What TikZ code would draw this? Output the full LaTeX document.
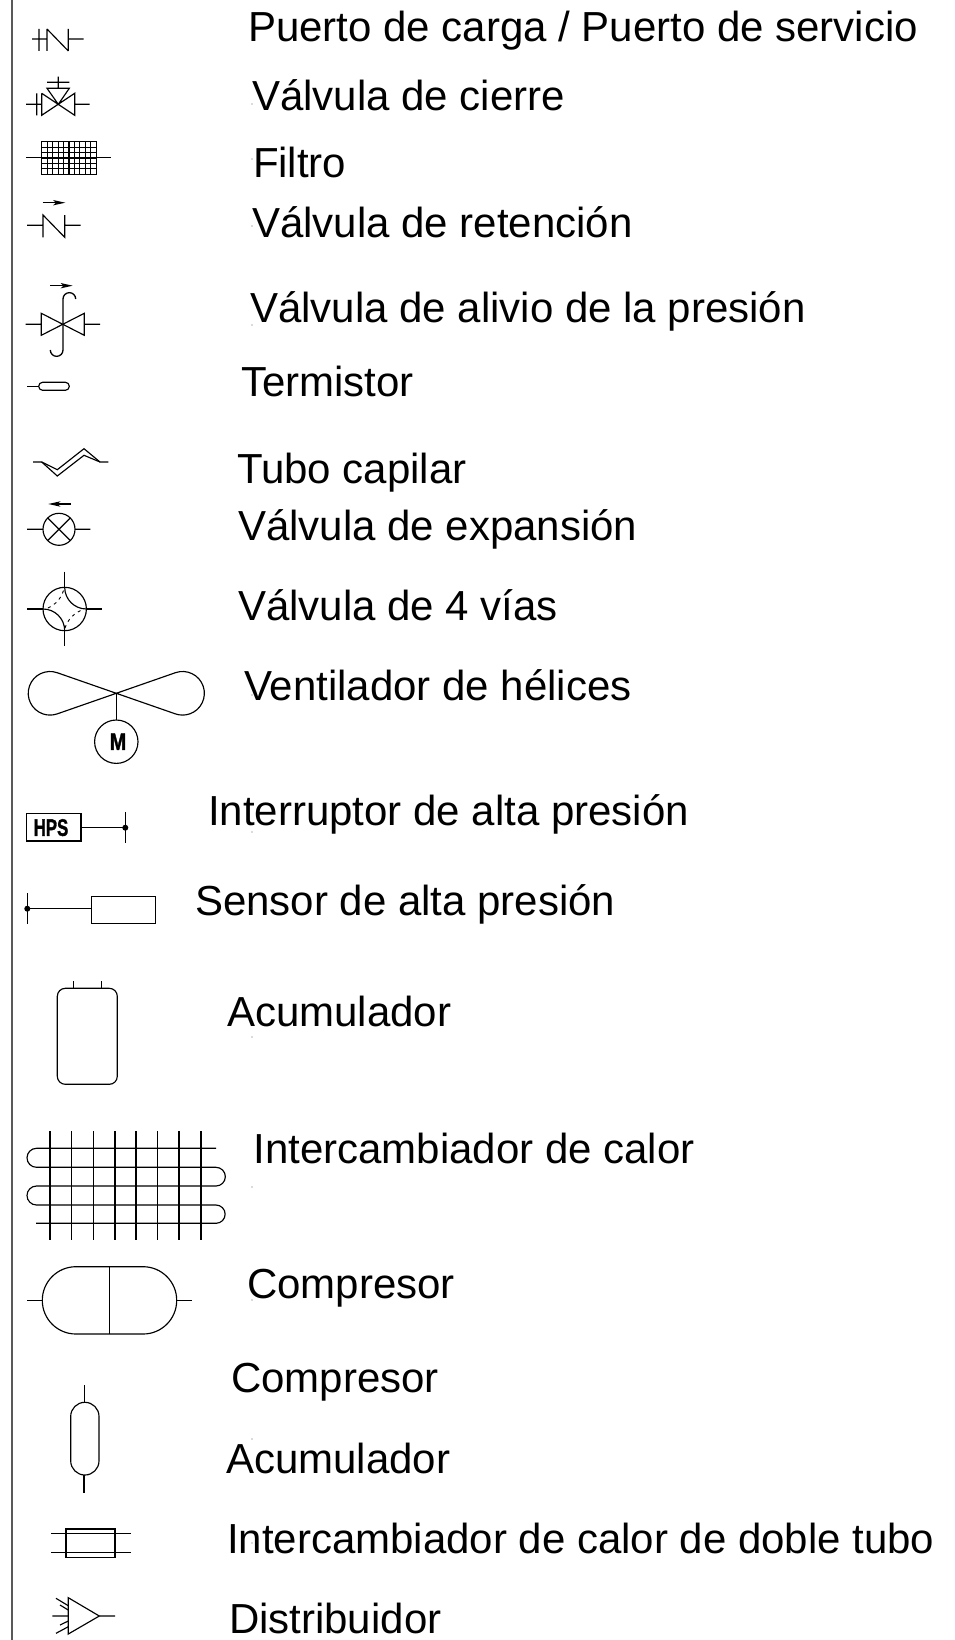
\documentclass[tikz,border=0pt]{standalone}
\usepackage{fontspec}
\setmainfont{Liberation Sans}
\newfontfamily\heavyfont[UprightFont=* Bold,FakeBold=1.6]{Liberation Sans}
\tikzset{
  x=1pt,y=-1pt,
  sym/.style={draw=black,line width=1.15pt,line join=miter},
  lab/.style={anchor=base west,inner sep=0pt,outer sep=0pt,text=black,font=\fontsize{42}{48}\selectfont},
  speck/.style={fill=black!60,draw=none},
  slimhead/.style={fill=black,draw=none},
}
\begin{document}
\begin{tikzpicture}
\useasboundingbox (0,0) rectangle (955,1640);
\fill[white] (0,0) rectangle (955,1640);
\draw[line width=1.7pt,draw=black!65] (12,0) -- (12,1640);

% labels
\node[lab] (t1) at (248,41.7) {Puerto de carga / Puerto de servicio};
\node[lab] (t2) at (252,111) {Válvula de cierre};
\node[lab] (t3) at (253,178) {Filtro};
\node[lab] (t4) at (252,237) {Válvula de retención};
\node[lab] (t5) at (250,322) {Válvula de alivio de la presión};
\node[lab] (t6) at (241,396) {Termistor};
\node[lab] (t7) at (237,483) {Tubo capilar};
\node[lab] (t8) at (238,540.5) {Válvula de expansión};
\node[lab] (t9) at (238,620) {Válvula de 4 vías};
\node[lab] (t10) at (244,700.5) {Ventilador de hélices};
\node[lab] (t11) at (208,825.5) {Interruptor de alta presión};
\node[lab] (t12) at (195,915) {Sensor de alta presión};
\node[lab] (t13) at (227,1026.5) {Acumulador};
\node[lab] (t14) at (253.5,1163.5) {Intercambiador de calor};
\node[lab] (t15) at (247,1298) {Compresor};
\node[lab] (t16) at (231,1392) {Compresor};
\node[lab] (t17) at (226,1473) {Acumulador};
\node[lab] (t18) at (227,1553) {Intercambiador de calor de doble tubo};
\node[lab] (t19) at (229,1633) {Distribuidor};

% specks
\foreach \yy in {104,159,226,325,395,695,832,908,1037,1187,1300,1439,1543}
  \fill[speck] (252,\yy) circle (0.6);

% 1 port
\draw[sym] (32,39) -- (47,39) (39,29) -- (39,51) (47,29) -- (47,51)
  (47,29) -- (68.3,51) (68.3,29) -- (68.3,51) (68.3,39) -- (83.7,39);

% 2 shut-off valve
\draw[sym] (26,104.3) -- (41.7,104.3) (36.7,93.3) -- (36.7,115.3)
  (41.7,93.3) -- (41.7,115.3) -- (74.7,93.3) -- (74.7,115.3) -- (41.7,93.3)
  (74.7,104.3) -- (89.7,104.3)
  (47,88.3) -- (69.3,88.3) -- (58.3,104.3) -- cycle
  (47,82.3) -- (69.3,82.3) (58.3,76.7) -- (58.3,88.3);

% 3 filter
\draw[sym] (41.7,141.7) rectangle (96.3,174.3);
\draw[sym] (26,157.7) -- (111,157.7);
\foreach \i in {1,...,9} \draw[sym] ({41.7+5.46*\i},141.7) -- ({41.7+5.46*\i},174.3);
\foreach \i in {1,...,5} \draw[sym] (41.7,{141.7+5.43*\i}) -- (96.3,{141.7+5.43*\i});

% 4 check valve
\draw[sym] (42.7,202.7) -- (58,202.7);
\fill[slimhead] (65.3,202.7) -- (53,200) -- (56,202.7) -- (53,205.4) -- cycle;
\draw[sym] (27,225.3) -- (43,225.3) (43,215) -- (43,237.3) -- (43,215) -- (64.7,237.3) -- (64.7,215)
  (64.7,225.3) -- (80.7,225.3);

% 5 relief valve
\draw[sym] (50,285.7) -- (65,285.7);
\fill[slimhead] (72.7,285.7) -- (60.5,283) -- (63.5,285.7) -- (60.5,288.4) -- cycle;
\draw[sym] (25.7,324.3) -- (41.3,324.3) (84.3,324.3) -- (100,324.3)
  (41.3,313.3) -- (41.3,335.3) -- (84.3,313.3) -- (84.3,335.3) -- cycle;
\draw[sym,line width=1.3pt] (75.7,299) arc[start angle=0,end angle=-180,radius=6.35] -- (63,350)
  arc[start angle=0,end angle=180,radius=6.35];

% 6 thermistor
\draw[sym] (27,386.3) -- (38.7,386.3);
\draw[sym,rounded corners=3.9pt] (38.7,382.3) rectangle (69.3,390.3);

% 7 capillary
\draw[sym] (33,462) -- (41.7,462) -- (57.3,476) -- (84,455.3) -- (100,462) -- (108.3,462);
\draw[sym] (41.7,462) -- (57.3,469.7) -- (84,448.7) -- (100,462);

% 8 expansion valve
\draw[sym] (71,504) -- (56,504);
\fill[slimhead] (48.3,504) -- (60.5,501.3) -- (57.5,504) -- (60.5,506.7) -- cycle;
\draw[sym] (59,529.3) circle (16);
\draw[sym] (27,529.3) -- (43,529.3) (75,529.3) -- (90.3,529.3)
  (47.7,518) -- (70.3,540.6) (47.7,540.6) -- (70.3,518);

% 9 four-way valve
\draw[sym] (64.7,609) circle (21.7);
\draw[sym] (27,609) -- (43,609) (86.4,609) -- (101.7,609) (64.7,571.7) -- (64.7,587.3) (64.7,630.7) -- (64.7,646);
\draw[sym] (64.7,587.3) arc[start angle=180,end angle=90,radius=21.7];
\draw[sym] (43,609) arc[start angle=-90,end angle=0,radius=21.7];
\draw[sym,dash pattern=on 3pt off 4pt,line width=0.9pt] (48,608) .. controls (56,604) and (61,599) .. (64,589);
\draw[sym,dash pattern=on 3pt off 4pt,line width=0.9pt] (65,628) .. controls (68,619) and (74,613) .. (84,609);

% 10 fan
\draw[sym] (116.3,693.3) -- (57.2,672.7) arc[start angle=-70.8,end angle=-289.2,radius=21.8] -- cycle;
\draw[sym] (116.3,693.3) -- (175.4,672.7) arc[start angle=250.8,end angle=469.2,radius=21.8] -- cycle;
\draw[sym] (116.3,693.3) -- (116.3,720);
\node[sym,circle,minimum size=43.4pt,inner sep=0pt] (motor) at (116.3,741.7) {};
\node[inner sep=0pt,font=\fontsize{24}{24}\selectfont\heavyfont,xscale=0.82] (m) at (118,741.7) {M};

% 11 HPS
\node[sym,rectangle,minimum width=54.3pt,minimum height=27.3pt,inner sep=0pt,line width=1.4pt] (hps) at (53.85,827.35) {};
\node[inner sep=0pt,font=\fontsize{24}{24}\selectfont\heavyfont,xscale=0.7] (hpst) at (51,827.6) {HPS};
\draw[sym] (81,827.7) -- (125.3,827.7) (125.3,812.3) -- (125.3,842.7);
\fill (125.3,827.7) circle (3);

% 12 sensor
\draw[sym] (27.3,893.3) -- (27.3,924.3) (27.3,908.7) -- (91.7,908.7);
\fill (27.3,908.7) circle (3);
\draw[sym] (91.7,896.3) rectangle (155.7,923.7);

% 13 accumulator
\draw[sym,rounded corners=8pt] (57.3,988.3) rectangle (117.3,1084.3);
\draw[sym] (73.3,981) -- (73.3,988.3) (101.7,981) -- (101.7,988.3);

% 14 heat exchanger
\foreach \xx in {50,71.7,93.3,115,136,157.7,179,201} \draw[sym] (\xx,1131) -- (\xx,1240);
\draw[sym] (216,1148.3) -- (36.5,1148.3) arc[start angle=-90,end angle=-270,radius=9.5]
  -- (216,1167.3) arc[start angle=-90,end angle=90,radius=9.35]
  -- (36.5,1186) arc[start angle=-90,end angle=-270,radius=9.5]
  -- (216,1205) arc[start angle=-90,end angle=90,radius=9.15] -- (36,1223.3);

% 15 compressor
\draw[sym,rounded corners=33.6pt] (42.3,1266.7) rectangle (176.7,1334);
\draw[sym] (109.7,1266.7) -- (109.7,1334) (27,1300.3) -- (42.3,1300.3) (176.7,1300.3) -- (192.3,1300.3);

% 16 vertical compressor
\draw[sym,rounded corners=14.1pt] (70.7,1402.3) rectangle (99,1475);
\draw[sym] (84.7,1385) -- (84.7,1402.3) (84,1475) -- (84,1492.7);

% 17 double tube
\draw[sym] (66,1529) rectangle (115,1557.3);
\draw[sym] (51,1533.3) -- (130.7,1533.3) (51,1552.7) -- (130.7,1552.7);

% 18 distributor
\draw[sym] (68.3,1597.7) -- (68.3,1634) -- (99.3,1616) -- cycle;
\draw[sym] (99.3,1616) -- (115,1616) (52.3,1616) -- (68.3,1616)
  (56,1598.3) -- (68.3,1605.7) (60,1605) -- (68.3,1610)
  (60,1625) -- (68.3,1621) (56,1633.3) -- (68.3,1626.7);
\end{tikzpicture}
\end{document}
